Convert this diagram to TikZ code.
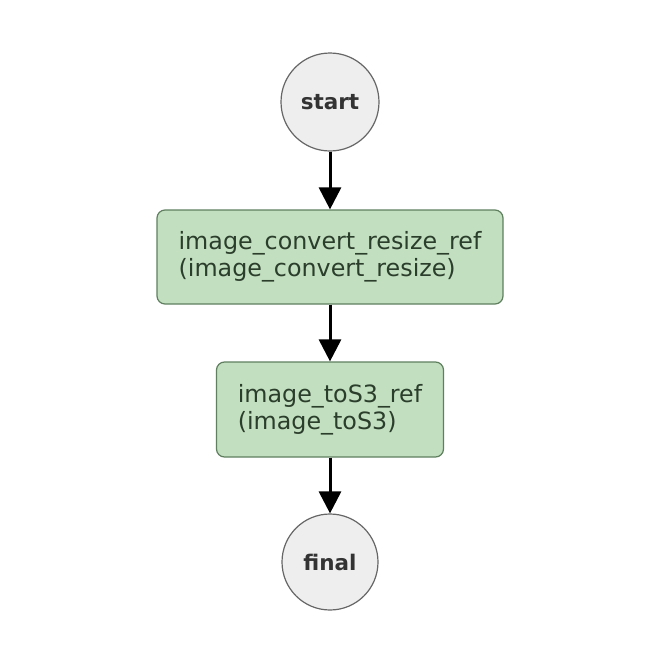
\documentclass[tikz,border=0pt]{standalone}
\usepackage{fontspec}
\setmainfont{DejaVu Sans}
\usetikzlibrary{arrows.meta}

\definecolor{circlefill}{HTML}{EEEEEE}
\definecolor{circleline}{HTML}{666666}
\definecolor{boxfill}{HTML}{C2DFC0}
\definecolor{boxline}{HTML}{5F7F5F}
\definecolor{boxtext}{HTML}{2B3D2B}
\definecolor{labeltext}{HTML}{333333}

\begin{document}
\begin{tikzpicture}[x=1pt,y=-1pt,
        endpoint/.style={circle,draw=circleline,fill=circlefill,line width=1.2pt,
            minimum size=98pt,inner sep=0pt,text=labeltext,
            font=\fontsize{21.5}{25}\selectfont\bfseries},
        task/.style={rounded corners=8pt,draw=boxline,fill=boxfill,line width=1.2pt,
            align=left,inner sep=0pt,text=boxtext,
            font=\fontsize{23.8}{27}\selectfont},
        flow/.style={line width=3pt,-{Triangle[width=22pt,length=22pt]}}]
        \useasboundingbox (0,0) rectangle (656,656);
        \node[endpoint] (start) at (330,102) {start};
        \node[task,minimum width=346pt,minimum height=94pt] (convert) at (330,257)
            {image\_convert\_resize\_ref\\(image\_convert\_resize)};
        \node[task,minimum width=227pt,minimum height=95pt] (toS3) at (330,409.5)
            {image\_toS3\_ref\\(image\_toS3)};
        \node[endpoint,minimum size=96pt] (final) at (330,562) {final};
        \draw[flow] (start) -- (convert);
        \draw[flow] (convert) -- (toS3);
        \draw[flow] (toS3) -- (final);
    \end{tikzpicture}
\end{document}
